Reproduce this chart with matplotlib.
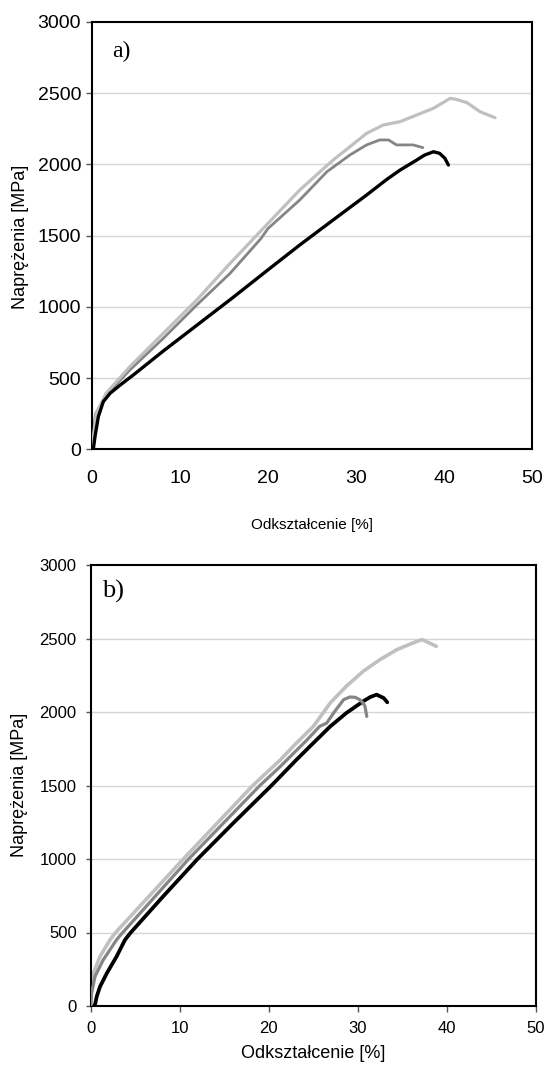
import matplotlib
matplotlib.use("Agg")
import matplotlib.pyplot as plt

# ---------------- data ----------------
# panel a)
lg_a_x = [0, 0.15, 0.5, 1.6, 4.3, 8.1, 11.9, 15.7, 19.0, 23.6, 27.4, 29.1, 31.2, 33.1, 35.0, 36.9, 38.8, 40.7, 41.4, 42.6, 44.1, 45.8]
lg_a_y = [0, 89, 253, 393, 580, 814, 1048, 1306, 1521, 1820, 2031, 2114, 2218, 2277, 2300, 2347, 2394, 2464, 2457, 2434, 2370, 2328]

mg_a_x = [0, 0.1, 0.4, 1.6, 4.3, 8.1, 11.9, 15.7, 19.2, 20.0, 23.6, 26.7, 29.3, 31.2, 32.7, 33.7, 34.6, 36.5, 37.6]
mg_a_y = [0, 100, 250, 380, 557, 779, 1013, 1236, 1480, 1550, 1750, 1949, 2066, 2137, 2172, 2172, 2137, 2137, 2118]

bk_a_x = [0.15, 0.34, 0.72, 1.28, 2.05, 3.2, 4.7, 8.1, 12.0, 16.0, 20.0, 23.6, 27.4, 31.2, 33.5, 35.0, 36.9, 37.8, 38.8, 39.5, 40.1, 40.5]
bk_a_y = [0, 89, 229, 334, 393, 451, 522, 690, 875, 1065, 1260, 1434, 1610, 1785, 1895, 1960, 2031, 2066, 2089, 2078, 2043, 1996]

# panel b)
lg_b_x = [0, 0.05, 0.3, 1.04, 2.17, 2.8, 6.6, 10.4, 14.3, 18.2, 21.3, 23.1, 25.0, 26.9, 28.7, 30.6, 32.5, 34.4, 36.2, 37.2, 38.0, 38.8]
lg_b_y = [0, 109, 222, 336, 450, 500, 750, 1000, 1250, 1500, 1675, 1789, 1902, 2062, 2175, 2277, 2357, 2425, 2470, 2493, 2470, 2447]

mg_b_x = [0, 0.1, 0.48, 1.4, 2.9, 3.6, 7.3, 11.0, 15.0, 19.0, 21.3, 24.3, 25.7, 26.5, 27.4, 28.4, 29.1, 29.7, 30.2, 30.6, 30.8, 31.0]
mg_b_y = [0, 86, 200, 313, 450, 500, 750, 1000, 1250, 1500, 1630, 1811, 1902, 1925, 2004, 2084, 2102, 2100, 2084, 2060, 2038, 1970]

bk_b_x = [0.35, 0.48, 0.67, 1.04, 1.8, 2.9, 3.85, 4.5, 8.2, 12.0, 16.1, 20.3, 23.1, 25.0, 26.9, 28.7, 30.6, 31.4, 32.1, 32.9, 33.3]
bk_b_y = [0, 7, 63, 131, 222, 336, 450, 500, 750, 1000, 1250, 1500, 1675, 1789, 1902, 1993, 2073, 2102, 2118, 2095, 2066]

x_ticks = [0, 10, 20, 30, 40, 50]
y_ticks = [0, 500, 1000, 1500, 2000, 2500, 3000]
x_label = "Odkształcenie [%]"
y_label = "Naprężenia [MPa]"
panel_labels = ["a)", "b)"]

LIGHT = "#c0c0c0"
MID = "#858585"
BLACK = "#000000"
GRID = "#d6d6d6"

plt.rcParams['font.family'] = ['Liberation Sans', 'DejaVu Sans']

W, H = 546, 1072
fig = plt.figure(figsize=(W / 100, H / 100), dpi=100)

def px_rect(l, t, r, b):
    return [l / W, 1 - b / H, (r - l) / W, (b - t) / H]

ax1 = fig.add_axes(px_rect(92, 22, 532, 449.3))
ax2 = fig.add_axes(px_rect(90.7, 565, 536, 1006))

def style(ax, tick_fs, xpad, xlen, ypad, ylen):
    ax.set_xlim(0, 50)
    ax.set_ylim(0, 3000)
    ax.set_xticks(x_ticks)
    ax.set_yticks(y_ticks)
    ax.set_xticklabels([str(v) for v in x_ticks])
    ax.set_yticklabels([str(v) for v in y_ticks])
    for s in ax.spines.values():
        s.set_color("black")
        s.set_linewidth(1.5)
    for g in y_ticks[1:-1]:
        ax.axhline(g, color=GRID, lw=1.0, zorder=0)
    ax.tick_params(axis='x', direction='out', length=xlen, pad=xpad, labelsize=tick_fs, width=1, color="#555555")
    ax.tick_params(axis='y', direction='out', length=ylen, pad=ypad, labelsize=tick_fs, width=1, color="#555555")

style(ax1, 14, 15, 0, 3.5, 4.3)
style(ax2, 12, 7, 4, 6.5, 3.6)

# panel a curves
ax1.plot(mg_a_x, mg_a_y, color=MID, lw=2.0, solid_capstyle='round', zorder=2)
ax1.plot(lg_a_x, lg_a_y, color=LIGHT, lw=2.3, solid_capstyle='round', zorder=3)
ax1.plot(bk_a_x, bk_a_y, color=BLACK, lw=2.4, solid_capstyle='round', zorder=4)

# panel b curves
ax2.plot(lg_b_x, lg_b_y, color=LIGHT, lw=2.6, solid_capstyle='round', zorder=2)
ax2.plot(bk_b_x, bk_b_y, color=BLACK, lw=2.7, solid_capstyle='round', zorder=3)
ax2.plot(mg_b_x, mg_b_y, color=MID, lw=2.3, solid_capstyle='round', zorder=4)

# panel labels
ax1.text(0.045, 0.9305, panel_labels[0], transform=ax1.transAxes, ha='left', va='center',
         fontsize=17, family=['Liberation Serif', 'DejaVu Serif'])
ax2.text(0.025, 0.9395, panel_labels[1], transform=ax2.transAxes, ha='left', va='center',
         fontsize=19, family=['Liberation Serif', 'DejaVu Serif'])

# axis labels
fig.text(312 / W, 1 - 525 / H, x_label, ha='center', va='center', fontsize=11)
fig.text(313.5 / W, 1 - 1053.5 / H, x_label, ha='center', va='center', fontsize=13)
fig.text(20.5 / W, 1 - 237 / H, y_label, ha='center', va='center', rotation=90, fontsize=13)
fig.text(20 / W, 1 - 785 / H, y_label, ha='center', va='center', rotation=90, fontsize=13)

fig.savefig("out.png", dpi=100, facecolor="white")
